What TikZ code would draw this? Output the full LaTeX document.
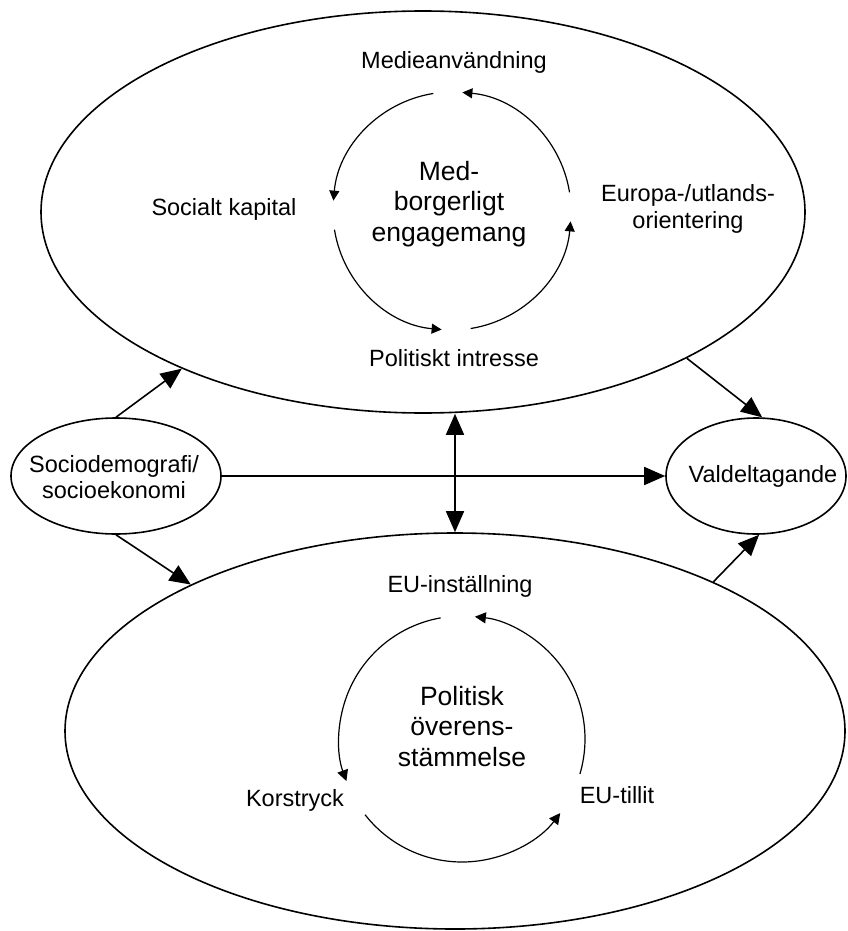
\documentclass[tikz,border=0pt]{standalone}
\usepackage{fontspec}
\setmainfont{Liberation Sans}
\usetikzlibrary{arrows.meta,shapes.geometric}
\begin{document}
\begin{tikzpicture}[x=1pt,y=1pt,
 bigell/.style={draw, line width=1.6pt, ellipse, inner sep=0pt},
 lbl/.style={font=\fontsize{23.5}{27}\selectfont, inner sep=0pt, anchor=base, align=center},
 ctr/.style={font=\fontsize{26.5}{30.5}\selectfont, inner sep=0pt, anchor=base, align=center},
 conn/.style={line width=1.6pt, -{Triangle[length=21pt,width=18pt]}},
 dconn/.style={line width=1.6pt, {Triangle[length=21pt,width=18pt]}-{Triangle[length=21pt,width=18pt]}},
 cyc/.style={line width=1.2pt, -{Triangle[length=10pt,width=10pt]}},
 cycb/.style={line width=1.2pt, -{Triangle[length=11pt,width=11pt]}},
]
\useasboundingbox (0,0) rectangle (847,-931);
% ellipses
\node[bigell, minimum width=764pt, minimum height=402pt] (top) at (423,-212) {};
\node[bigell, minimum width=780pt, minimum height=396pt] (bot) at (455,-731) {};
\node[bigell, minimum width=210pt, minimum height=116pt] (socio) at (116,-476) {};
\node[bigell, minimum width=180pt, minimum height=116pt] (vald) at (756,-476) {};
% ellipse texts (base = baseline of last line)
\node[lbl, font=\fontsize{23.5}{26}\selectfont] (sociot) at (114,-498) {Sociodemografi/\\socioekonomi};
\node[lbl] (valdt) at (763,-482) {Valdeltagande};
% top inner texts
\node[lbl] (medi) at (454,-69) {Medieanvändning};
\node[lbl] (social) at (224,-215) {Socialt kapital};
\node[lbl] (europa) at (688,-228) {Europa-/utlands-\\orientering};
\node[lbl] (polint) at (454,-366) {Politiskt intresse};
\node[ctr] (medb) at (449,-241) {Med-\\borgerligt\\engagemang};
% bottom inner texts
\node[lbl] (euinst) at (460,-592) {EU-inställning};
\node[lbl] (kors) at (295,-806) {Korstryck};
\node[lbl] (eutill) at (617,-803) {EU-tillit};
\node[ctr] (polov) at (462,-766) {Politisk\\överens-\\stämmelse};
% cycle arcs, top
\coordinate (c1) at (452,-211);
\draw[cyc] ([shift={(9:119pt)}]c1) arc[start angle=9, end angle=85, radius=119pt];
\draw[cyc] ([shift={(99:119pt)}]c1) arc[start angle=99, end angle=175, radius=119pt];
\draw[cyc] ([shift={(189:119pt)}]c1) arc[start angle=189, end angle=265, radius=119pt];
\draw[cyc] ([shift={(279:119pt)}]c1) arc[start angle=279, end angle=355, radius=119pt];
% cycle arcs, bottom
\coordinate (c2) at (462,-739);
\draw[cycb] ([shift={(100:123pt)}]c2) arc[start angle=100, end angle=200, radius=123pt];
\draw[cycb] ([shift={(218:123pt)}]c2) arc[start angle=218, end angle=323, radius=123pt];
\draw[cycb] ([shift={(343.5:123pt)}]c2) arc[start angle=343.5, end angle=444, radius=123pt];
% connectors
\draw[conn] (socio.north) -- (top.213);
\draw[conn] (socio.south) -- (bot.151);
\draw[conn] (socio.east) -- (vald.west);
\draw[conn] (top.331) -- (vald.84);
\draw[conn] (bot.30) -- (vald.-87);
\draw[dconn] (bot.north |- top.south) -- (bot.north);
\end{tikzpicture}
\end{document}
